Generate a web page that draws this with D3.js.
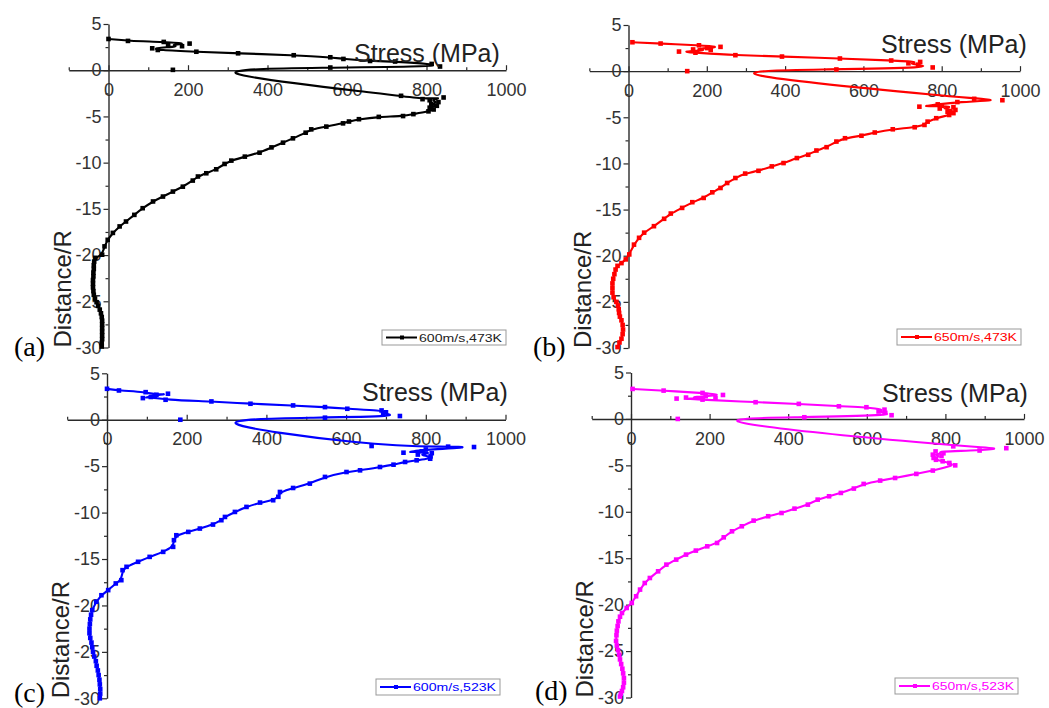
<!DOCTYPE html>
<html><head><meta charset="utf-8">
<script src="https://cdn.jsdelivr.net/npm/d3@7"></script>
<style>body{margin:0;background:#fff}svg{display:block}</style>
</head><body>
<svg id="chart" width="1049" height="708"></svg>
<script>
// ---------- data ----------
const xTicks = [0, 200, 400, 600, 800, 1000];
const xMinor = [-100, 100, 300, 500, 700, 900];
const yTicks = [5, 0, -5, -10, -15, -20, -25, -30];
const yMinor = [2.5, -2.5, -7.5, -12.5, -17.5, -22.5, -27.5];
const panelTags = ["(a)", "(b)", "(c)", "(d)"];
const seriesNames = ["600m/s,473K", "650m/s,473K", "600m/s,523K", "650m/s,523K"];
const seriesColors = ["#000000", "#ff0000", "#0000ff", "#ff00ff"];
const xTitle = "Stress (MPa)";
const yTitle = "Distance/R";

// [stress (MPa), distance/R]
const dataA = [[0,3.38],[49,3.17],[139,3.06],[204,2.88],[150,2.72],[185,2.6],[110,2.37],[124,2.19],[221,2.0],[326,1.83],[466,1.62],[558,1.4],[591,1.22],[658,1.0],[721,0.94],[813,0.68],[834,0.4],[558,0.29],[162,0.04],[736,-2.77],[790,-3.13],[843,-2.95],[808,-3.25],[830,-3.45],[812,-3.65],[826,-3.85],[808,-4.05],[818,-4.25],[805,-4.45],[767,-4.75],[741,-4.96],[680,-5.05],[630,-5.3],[605,-5.55],[590,-5.75],[548,-6.1],[510,-6.4],[496,-6.76],[464,-7.37],[439,-7.84],[410,-8.35],[380,-8.92],[343,-9.35],[309,-9.78],[292,-10.14],[271,-10.72],[246,-11.15],[225,-11.5],[212,-11.94],[187,-12.6],[162,-13.13],[137,-13.67],[112,-14.2],[86,-14.93],[65,-15.65],[44,-16.37],[28,-16.9],[11,-17.6],[-2,-18.35],[-10,-19.06],[-16,-19.96],[-33,-20.3],[-36,-20.7],[-37,-21.1],[-37,-21.5],[-38,-21.9],[-38,-22.3],[-39,-22.7],[-39,-23.1],[-39,-23.5],[-38,-23.9],[-37,-24.3],[-34,-24.7],[-30,-25.1],[-26,-25.5],[-22,-25.9],[-19,-26.3],[-17,-26.7],[-16,-27.1],[-16,-27.5],[-16,-27.9],[-16,-28.3],[-16,-28.7],[-16,-29.1],[-17,-29.5],[-17,-29.9]];
const dataB = [[10,3.13],[82,2.99],[180,2.8],[235,2.63],[201,2.5],[165,2.35],[210,2.3],[129,2.12],[171,2.0],[273,1.73],[392,1.58],[540,1.37],[671,1.15],[745,1.0],[715,0.85],[740,0.7],[777,0.4],[531,0.18],[150,0.0],[883,-3.0],[955,-3.15],[840,-3.35],[790,-3.6],[743,-3.85],[800,-3.75],[830,-3.9],[795,-4.05],[835,-4.2],[815,-4.4],[830,-4.55],[819,-4.75],[786,-5.1],[764,-5.47],[756,-5.83],[731,-6.08],[675,-6.3],[629,-6.65],[595,-7.0],[553,-7.27],[531,-7.63],[506,-8.24],[480,-8.6],[459,-9.06],[430,-9.42],[396,-9.96],[366,-10.32],[332,-10.8],[298,-11.1],[273,-11.58],[252,-12.12],[235,-12.66],[214,-13.13],[192,-13.74],[163,-14.2],[137,-14.82],[108,-15.43],[91,-16.0],[65,-16.8],[40,-17.5],[27,-18.06],[14,-18.8],[2,-19.86],[-7,-20.4],[-18,-20.8],[-28,-21.1],[-33,-21.5],[-36,-22.0],[-39,-22.5],[-41,-23.0],[-41,-23.5],[-41,-24.0],[-38,-24.5],[-31,-25.0],[-27,-25.4],[-25,-25.8],[-24,-26.2],[-22,-26.6],[-18,-27.0],[-15,-27.5],[-14,-28.0],[-15,-28.5],[-18,-29.0],[-23,-29.4],[-28,-29.9]];
const dataC = [[0,3.33],[30,3.15],[97,2.97],[124,2.69],[153,2.8],[120,2.6],[90,2.33],[110,2.45],[147,2.15],[262,1.97],[360,1.72],[467,1.54],[547,1.36],[603,1.18],[689,1.0],[700,0.8],[693,0.65],[735,0.4],[547,0.22],[184,0.0],[664,-2.83],[856,-2.9],[921,-2.94],[800,-3.2],[744,-3.55],[790,-3.4],[815,-3.6],[780,-3.75],[812,-3.95],[811,-4.2],[777,-4.37],[748,-4.55],[719,-4.84],[685,-5.09],[635,-5.45],[601,-5.63],[547,-6.16],[509,-6.88],[467,-7.35],[434,-7.78],[430,-8.3],[417,-8.67],[384,-8.92],[350,-9.39],[321,-9.93],[296,-10.47],[287,-10.82],[266,-11.29],[233,-11.72],[204,-12.08],[174,-12.44],[168,-12.97],[166,-13.69],[141,-14.23],[107,-14.77],[78,-15.3],[49,-15.84],[39,-16.2],[36,-17.28],[22,-17.63],[3,-18.35],[-14,-18.9],[-27,-19.6],[-37,-20.5],[-40,-21.0],[-42,-21.5],[-43,-22.0],[-44,-22.5],[-44,-23.0],[-42,-23.5],[-39,-24.0],[-37,-24.5],[-35,-25.0],[-32,-25.5],[-28,-26.0],[-26,-26.5],[-23,-27.0],[-21,-27.5],[-19,-28.0],[-18,-28.5],[-17,-29.0],[-17,-29.5],[-18,-30.0]];
const dataD = [[4,3.23],[83,3.05],[182,2.8],[234,2.58],[190,2.45],[140,2.3],[215,2.25],[116,2.19],[182,2.08],[317,1.8],[427,1.62],[529,1.36],[599,1.26],[645,1.0],[630,0.8],[647,0.65],[663,0.4],[441,0.18],[119,0.0],[820,-2.95],[955,-3.15],[887,-3.4],[775,-3.5],[795,-3.7],[768,-3.85],[790,-4.0],[770,-4.2],[776,-4.4],[793,-4.56],[810,-4.74],[825,-5.0],[768,-5.56],[726,-5.92],[672,-6.36],[634,-6.64],[592,-7.0],[567,-7.5],[534,-7.97],[504,-8.33],[475,-8.69],[450,-9.23],[416,-9.66],[383,-10.13],[349,-10.48],[312,-10.95],[282,-11.56],[257,-12.1],[236,-12.75],[219,-13.36],[194,-13.72],[165,-14.18],[140,-14.61],[115,-15.15],[90,-15.69],[69,-16.41],[48,-17.13],[35,-17.67],[23,-18.38],[13,-19.1],[2,-19.82],[-11,-20.36],[-23,-20.9],[-28,-21.3],[-32,-21.8],[-34,-22.3],[-36,-22.8],[-37,-23.3],[-38,-23.9],[-36,-24.4],[-33,-24.9],[-30,-25.4],[-28,-25.9],[-25,-26.4],[-22,-26.9],[-20,-27.4],[-18,-27.9],[-18,-28.4],[-20,-28.9],[-23,-29.3],[-26,-29.6],[-28,-29.9]];
const allData = [dataA, dataB, dataC, dataD];

// ---------- layout (pixel positions) ----------
const layout = [
  {x0:108.5, x1:506,  yTop:24,    yBot:347.5, title:[354,62],    legend:[382,330,124,15], tag:[14,356]},
  {x0:628.5, x1:1020, yTop:25,    yBot:348,   title:[881,52.7],  legend:[897,329,124,16], tag:[533,356]},
  {x0:107,   x1:505.5,yTop:373.3, yBot:698.3, title:[362,401],   legend:[376,679,124,16], tag:[14,702]},
  {x0:631,   x1:1024, yTop:372.5, yBot:697.5, title:[882,401.5], legend:[895,678,123,16], tag:[535,700]}
];

const svg = d3.select("#chart");
const sans = "'Liberation Sans', Arial, sans-serif";
const serif = "'Liberation Serif', 'Times New Roman', serif";
const axisColor = "#2a2a2a";
const mk = 4.6;

layout.forEach((L, i) => {
  const color = seriesColors[i];
  const xStart = L.x0 - (L.x1 - L.x0) / 10;
  const x = d3.scaleLinear().domain([-100, 1000]).range([xStart, L.x1]);
  const y = d3.scaleLinear().domain([5, -30]).range([L.yTop, L.yBot]);
  const g = svg.append("g");

  // x axis through y=0
  g.append("g").attr("transform", `translate(0,${y(0)})`)
    .call(d3.axisBottom(x).tickValues(xTicks).tickSize(-5).tickSizeOuter(0).tickPadding(13).tickFormat(d => String(d)));
  g.append("g").attr("transform", `translate(0,${y(0)})`)
    .call(d3.axisBottom(x).tickValues(xMinor).tickSize(-3).tickFormat(""))
    .call(s => s.select(".domain").remove());

  // y axis at x=0
  g.append("g").attr("transform", `translate(${x(0)},0)`)
    .call(d3.axisLeft(y).tickValues(yTicks).tickSize(5).tickSizeOuter(0).tickPadding(2).tickFormat(d => String(d)));
  g.append("g").attr("transform", `translate(${x(0)},0)`)
    .call(d3.axisLeft(y).tickValues(yMinor).tickSize(3).tickFormat(""))
    .call(s => s.select(".domain").remove());

  g.selectAll(".domain").attr("stroke", axisColor).attr("stroke-width", 1.4);
  g.selectAll(".tick line").attr("stroke", axisColor).attr("stroke-width", 1.2);
  g.selectAll(".tick text").attr("fill", "#333").style("font-family", sans).style("font-size", "18px");

  // series line (B-spline) + markers
  const line = d3.line().x(d => x(d[0])).y(d => y(d[1])).curve(d3.curveBasis);
  g.append("path").datum(allData[i]).attr("d", line)
    .attr("fill", "none").attr("stroke", color).attr("stroke-width", 2.1);
  g.selectAll("rect.mk").data(allData[i]).join("rect").attr("class", "mk")
    .attr("x", d => x(d[0]) - mk / 2).attr("y", d => y(d[1]) - mk / 2)
    .attr("width", mk).attr("height", mk).attr("fill", color);

  // axis titles
  g.append("text").attr("x", L.title[0]).attr("y", L.title[1])
    .style("font-family", sans).style("font-size", "25px").attr("fill", "#222").text(xTitle);
  g.append("text").attr("transform", `translate(${x(0) - 38},${y(-30)}) rotate(-90)`)
    .style("font-family", sans).style("font-size", "24px").attr("fill", "#222").text(yTitle);

  // panel tag
  g.append("text").attr("x", L.tag[0]).attr("y", L.tag[1])
    .style("font-family", serif).style("font-size", "28px").attr("fill", "#000").text(panelTags[i]);

  // legend
  const [lx, ly, lw, lh] = L.legend;
  g.append("rect").attr("x", lx).attr("y", ly).attr("width", lw).attr("height", lh)
    .attr("fill", "#fff").attr("stroke", "#999").attr("stroke-width", 1);
  const my = ly + lh / 2;
  g.append("line").attr("x1", lx + 4).attr("x2", lx + 35).attr("y1", my).attr("y2", my)
    .attr("stroke", color).attr("stroke-width", 2);
  g.append("rect").attr("x", lx + 18).attr("y", my - 2).attr("width", 4).attr("height", 4).attr("fill", color);
  g.append("text").attr("x", lx + 37).attr("y", my + 4)
    .attr("textLength", lw - 41).attr("lengthAdjust", "spacingAndGlyphs")
    .style("font-family", sans).style("font-size", "11px").attr("fill", i === 0 ? "#222" : color)
    .text(seriesNames[i]);
});
</script>
</body></html>
